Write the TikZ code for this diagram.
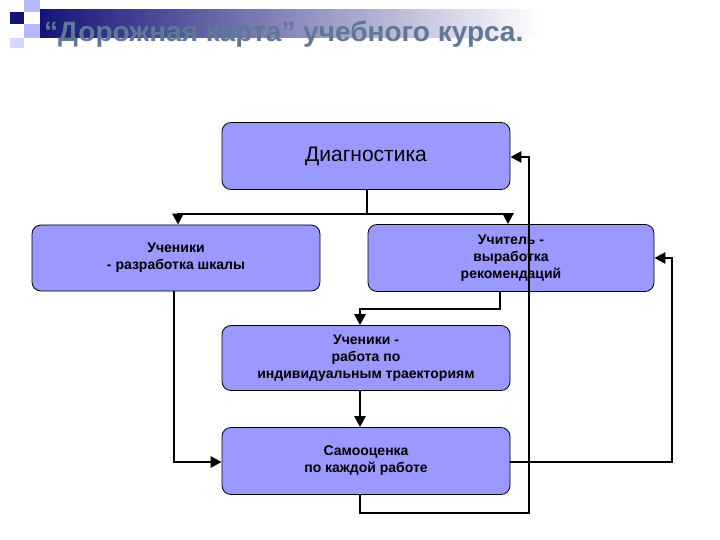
\documentclass[tikz,border=0pt]{standalone}
\usepackage{fontspec}
\setmainfont{Liberation Sans}
\usetikzlibrary{arrows.meta}
\definecolor{boxc}{RGB}{153,153,255}
\definecolor{titc}{RGB}{95,120,150}
\definecolor{navy}{RGB}{20,20,120}
\begin{document}
\begin{tikzpicture}[x=1pt,y=-1pt,
  box/.style={draw=black,line width=0.8pt,fill=boxc,rounded corners=9pt,inner sep=0pt,align=center,font=\bfseries\fontsize{14}{17}\selectfont},
  con/.style={line width=2.6pt},
  arr/.style={con,-{Triangle[length=11pt,width=11pt]}}]
\useasboundingbox (0,0) rectangle (720,540);
% decoration
\shade[left color=navy,right color=white] (40,10) rectangle (540,38);
\fill[navy] (10,12) rectangle (24,24);
\fill[boxc!70] (24,0) rectangle (40,12);
\fill[boxc!70] (24,24) rectangle (40,38);
\fill[boxc!40] (10,38) rectangle (24,48);
\node[anchor=base west,text=titc,font=\bfseries\fontsize{28}{32}\selectfont,inner sep=0pt] (title) at (44,42) {“Дорожная карта”  учебного курса.};
% boxes
\node[box,font=\fontsize{21}{24}\selectfont,minimum width=288pt,minimum height=67pt] (d) at (366,156) {Диагностика};
\node[box,minimum width=288pt,minimum height=66pt] (u) at (176,258) {Ученики\\- разработка шкалы};
\node[box,minimum width=286pt,minimum height=67pt] (t) at (511,258) {Учитель -\\выработка\\рекомендаций};
\node[box,minimum width=288pt,minimum height=65pt] (m) at (366,358) {Ученики -\\работа по\\индивидуальным траекториям};
\node[box,minimum width=288pt,minimum height=67pt] (s) at (366,461) {Самооценка\\по каждой работе};
% connectors
\coordinate (j) at (367,214);
\draw[con] (d.south -| j) -- (j);
\draw[arr] (j) -- (178,214) -- (u.north -| 178,0);
\draw[arr] (j) -- (508,214) -- (t.north -| 508,0);
\draw[arr] (t.south -| 500,0) -- (500,309) -- (360,309) -- (m.north -| 360,0);
\draw[arr] (m.south -| 360,0) -- (s.north -| 360,0);
\draw[arr] (u.south -| 174,0) -- (174,462) -- (s.west |- 0,462);
\draw[arr] (s.east |- 0,462) -- (672,462) -- (672,258) -- (t.east |- 0,258);
\draw[arr] (s.south -| 360,0) -- (360,513) -- (529,513) -- (529,157) -- (d.east |- 0,157);
\end{tikzpicture}
\end{document}
